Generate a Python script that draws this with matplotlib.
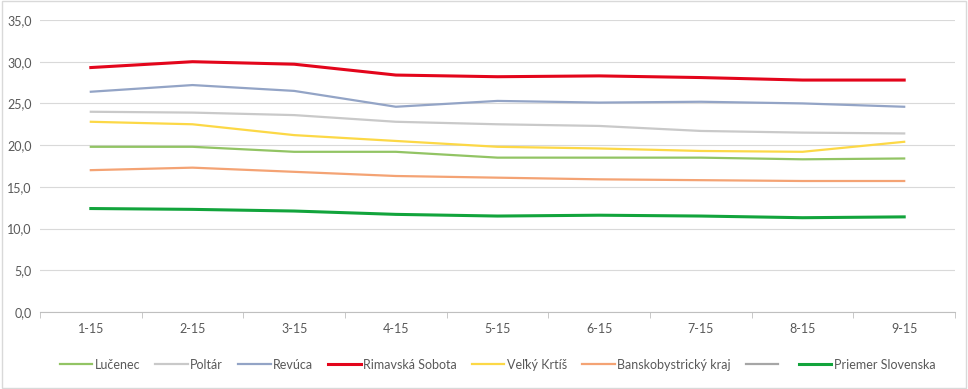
import matplotlib.pyplot as plt
from matplotlib.ticker import FuncFormatter, MultipleLocator

plt.rcParams['font.family'] = ['Lato', 'DejaVu Sans']

# data
months = ['1-15', '2-15', '3-15', '4-15', '5-15', '6-15', '7-15', '8-15', '9-15']
lucenec = [19.8, 19.8, 19.2, 19.2, 18.5, 18.5, 18.5, 18.3, 18.4]
poltar = [24.0, 23.9, 23.6, 22.8, 22.5, 22.3, 21.7, 21.5, 21.4]
revuca = [26.4, 27.2, 26.5, 24.6, 25.3, 25.1, 25.2, 25.0, 24.6]
rimavska = [29.3, 30.0, 29.7, 28.4, 28.2, 28.3, 28.1, 27.8, 27.8]
velky_krtis = [22.8, 22.5, 21.2, 20.5, 19.8, 19.6, 19.3, 19.2, 20.4]
bb_kraj = [17.0, 17.3, 16.8, 16.3, 16.1, 15.9, 15.8, 15.7, 15.7]
priemer_sk = [12.4, 12.3, 12.1, 11.7, 11.5, 11.6, 11.5, 11.3, 11.4]

x = range(len(months))

fig = plt.figure(figsize=(9.68, 3.89), dpi=100)
ax = fig.add_axes([0.0413, 0.198, 0.9453, 0.7506])

ax.plot(x, lucenec, color='#92c464', lw=1.6, label='Lučenec')
ax.plot(x, poltar, color='#c9c9c9', lw=1.6, label='Poltár')
ax.plot(x, revuca, color='#93a4c6', lw=1.6, label='Revúca')
ax.plot(x, rimavska, color='#e3051b', lw=2.2, label='Rimavská Sobota')
ax.plot(x, velky_krtis, color='#fcd846', lw=1.6, label='Veľký Krtíš')
ax.plot(x, bb_kraj, color='#f4a374', lw=1.6, label='Banskobystrický kraj')
ax.plot([], [], color='#a6a6a6', lw=1.6, label=' ')
ax.plot(x, priemer_sk, color='#12a43c', lw=2.2, label='Priemer Slovenska')

ax.set_xlim(-0.5, len(months) - 0.5)
ax.set_ylim(0, 35)
ax.yaxis.set_major_locator(MultipleLocator(5))
ax.yaxis.set_major_formatter(FuncFormatter(lambda v, p: f'{v:.1f}'.replace('.', ',')))
ax.set_xticks(list(x))
ax.set_xticklabels(months)
ax.set_xticks([i + 0.5 for i in range(-1, len(months))], minor=True)

ax.grid(axis='y', color='#d9d9d9', lw=0.8)
ax.set_axisbelow(True)
for s in ['top', 'right', 'left']:
    ax.spines[s].set_visible(False)
ax.spines['bottom'].set_color('#bfbfbf')
ax.tick_params(axis='y', length=0, labelsize=9, labelcolor='#595959', pad=6)
ax.tick_params(axis='x', which='major', length=0, labelsize=9, labelcolor='#595959', pad=8)
ax.tick_params(axis='x', which='minor', length=4, color='#bfbfbf')

leg = ax.legend(loc='center', bbox_to_anchor=(0.5, -0.18), ncol=8, frameon=False,
                fontsize=9, handlelength=2.6, handletextpad=0.2, columnspacing=1.2)
for t in leg.get_texts():
    t.set_color('#595959')

# figure border
fig.patches.append(plt.Rectangle((0.002, 0.003), 0.996, 0.994, transform=fig.transFigure,
                                 fill=False, edgecolor='#d9d9d9', lw=1))

fig.savefig('out.png', dpi=100)
